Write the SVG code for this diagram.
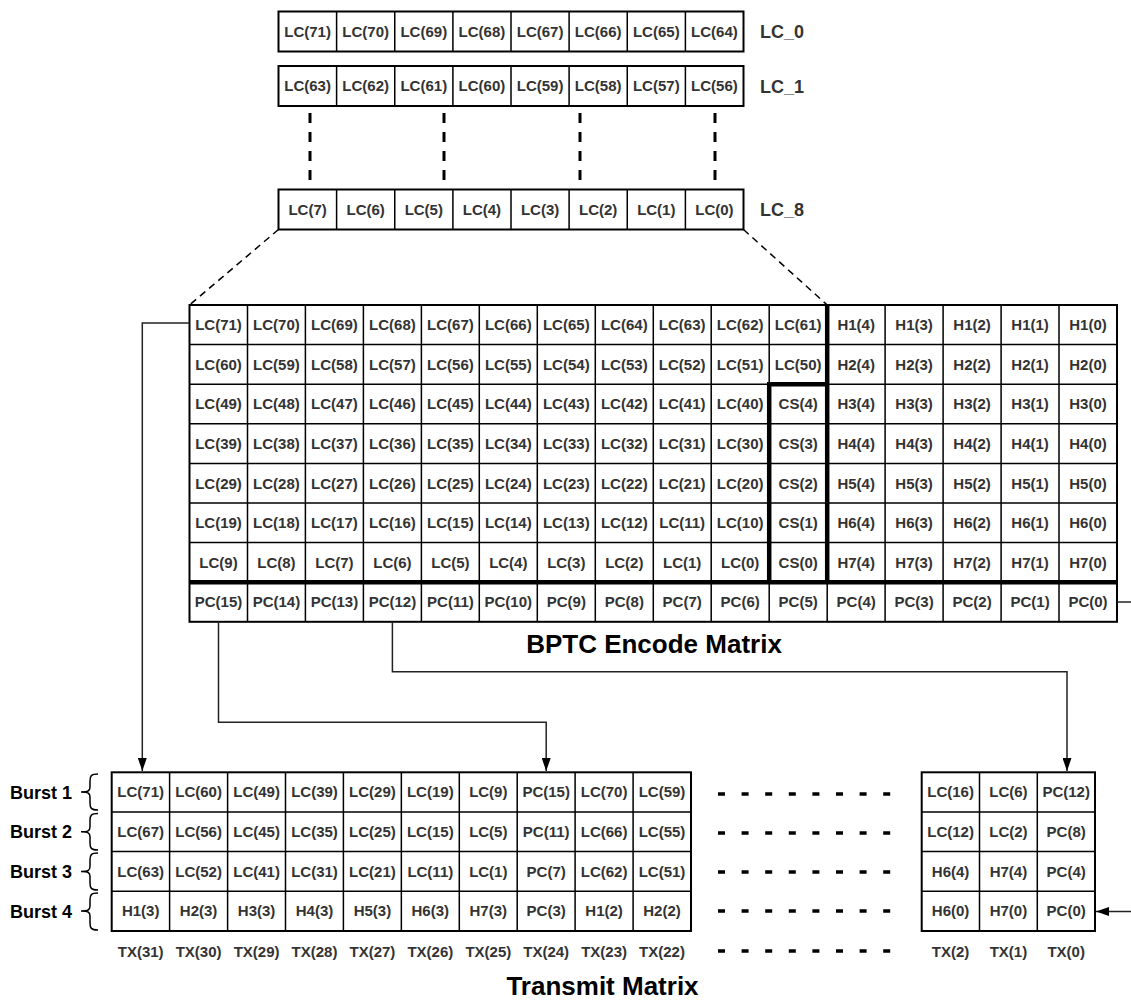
<svg xmlns="http://www.w3.org/2000/svg" width="1131" height="1001" viewBox="0 0 1131 1001">
<style>
.c{font-family:"Liberation Sans",Arial,sans-serif;font-weight:bold;font-size:15px;fill:#333;text-anchor:middle}
.lbl{font-family:"Liberation Sans",Arial,sans-serif;font-weight:bold;font-size:18px;fill:#333}
.bl{font-family:"Liberation Sans",Arial,sans-serif;font-weight:bold;font-size:18px;fill:#000}
.ttl{font-family:"Liberation Sans",Arial,sans-serif;font-weight:bold;font-size:26px;fill:#000;text-anchor:middle}
.grid{fill:none;stroke:#000;stroke-width:1.5}
.box{fill:#fff;stroke:#000;stroke-width:2}
.thick{fill:none;stroke:#000;stroke-width:4.5}
.conn{fill:none;stroke:#222;stroke-width:1.5}
.vdash{fill:none;stroke:#000;stroke-width:3;stroke-dasharray:10 9}
.ddash{fill:none;stroke:#000;stroke-width:1.5;stroke-dasharray:7 5}
.hdash{fill:none;stroke:#000;stroke-width:3.5;stroke-dasharray:7 16.6}
.brace{fill:none;stroke:#000;stroke-width:1.5}
</style>
<defs>
<marker id="arr" viewBox="0 0 13 9" refX="13" refY="4.5" markerWidth="13" markerHeight="9" markerUnits="userSpaceOnUse" orient="auto"><path d="M0,0 L13,4.5 L0,9 z" fill="#000"/></marker>
</defs>

<g id="lc0">
<rect class="box" x="278.5" y="11.5" width="465" height="40"/>
<path class="grid" d="M336.6 11.5V51.5M394.75 11.5V51.5M452.9 11.5V51.5M511 11.5V51.5M569.1 11.5V51.5M627.25 11.5V51.5M685.4 11.5V51.5"/>
<text class="c" x="307.6" y="36.8">LC(71)</text><text class="c" x="365.7" y="36.8">LC(70)</text><text class="c" x="423.8" y="36.8">LC(69)</text><text class="c" x="481.9" y="36.8">LC(68)</text><text class="c" x="540.1" y="36.8">LC(67)</text><text class="c" x="598.2" y="36.8">LC(66)</text><text class="c" x="656.3" y="36.8">LC(65)</text><text class="c" x="714.4" y="36.8">LC(64)</text>
<text class="lbl" x="760" y="38">LC_0</text>
</g>

<g id="lc1">
<rect class="box" x="278.5" y="66" width="465" height="40"/>
<path class="grid" d="M336.6 66V106M394.75 66V106M452.9 66V106M511 66V106M569.1 66V106M627.25 66V106M685.4 66V106"/>
<text class="c" x="307.6" y="91.3">LC(63)</text><text class="c" x="365.7" y="91.3">LC(62)</text><text class="c" x="423.8" y="91.3">LC(61)</text><text class="c" x="481.9" y="91.3">LC(60)</text><text class="c" x="540.1" y="91.3">LC(59)</text><text class="c" x="598.2" y="91.3">LC(58)</text><text class="c" x="656.3" y="91.3">LC(57)</text><text class="c" x="714.4" y="91.3">LC(56)</text>
<text class="lbl" x="760" y="92.5">LC_1</text>
</g>

<g id="lc8">
<rect class="box" x="278.5" y="189.5" width="465" height="40"/>
<path class="grid" d="M336.6 189.5V229.5M394.75 189.5V229.5M452.9 189.5V229.5M511 189.5V229.5M569.1 189.5V229.5M627.25 189.5V229.5M685.4 189.5V229.5"/>
<text class="c" x="307.6" y="214.8">LC(7)</text><text class="c" x="365.7" y="214.8">LC(6)</text><text class="c" x="423.8" y="214.8">LC(5)</text><text class="c" x="481.9" y="214.8">LC(4)</text><text class="c" x="540.1" y="214.8">LC(3)</text><text class="c" x="598.2" y="214.8">LC(2)</text><text class="c" x="656.3" y="214.8">LC(1)</text><text class="c" x="714.4" y="214.8">LC(0)</text>
<text class="lbl" x="760" y="216">LC_8</text>
</g>

<g id="bptc">
<rect class="grid" x="189.5" y="305" width="927.5" height="316.8" fill="#fff" style="stroke-width:2"/>
<path class="grid" d="M247.5 305V621.8M305.4 305V621.8M363.4 305V621.8M421.4 305V621.8M479.3 305V621.8M537.3 305V621.8M595.3 305V621.8M653.3 305V621.8M711.2 305V621.8M769.2 305V621.8M827.2 305V621.8M885.1 305V621.8M943.1 305V621.8M1001.1 305V621.8M1059 305V621.8M189.5 344.6H1117M189.5 384.2H1117M189.5 423.8H1117M189.5 463.4H1117M189.5 503H1117M189.5 542.6H1117"/>
<path class="thick" d="M827.2 305V582.2M769.2 384.2V582.2M767 384.2H829.4M189.5 582.2H1117"/>
<text class="c" x="218.5" y="330">LC(71)</text><text class="c" x="276.4" y="330">LC(70)</text><text class="c" x="334.4" y="330">LC(69)</text><text class="c" x="392.4" y="330">LC(68)</text><text class="c" x="450.4" y="330">LC(67)</text><text class="c" x="508.3" y="330">LC(66)</text><text class="c" x="566.3" y="330">LC(65)</text><text class="c" x="624.3" y="330">LC(64)</text><text class="c" x="682.2" y="330">LC(63)</text><text class="c" x="740.2" y="330">LC(62)</text><text class="c" x="798.2" y="330">LC(61)</text><text class="c" x="856.2" y="330">H1(4)</text><text class="c" x="914.1" y="330">H1(3)</text><text class="c" x="972.1" y="330">H1(2)</text><text class="c" x="1030.1" y="330">H1(1)</text><text class="c" x="1088" y="330">H1(0)</text>
<text class="c" x="218.5" y="369.7">LC(60)</text><text class="c" x="276.4" y="369.7">LC(59)</text><text class="c" x="334.4" y="369.7">LC(58)</text><text class="c" x="392.4" y="369.7">LC(57)</text><text class="c" x="450.4" y="369.7">LC(56)</text><text class="c" x="508.3" y="369.7">LC(55)</text><text class="c" x="566.3" y="369.7">LC(54)</text><text class="c" x="624.3" y="369.7">LC(53)</text><text class="c" x="682.2" y="369.7">LC(52)</text><text class="c" x="740.2" y="369.7">LC(51)</text><text class="c" x="798.2" y="369.7">LC(50)</text><text class="c" x="856.2" y="369.7">H2(4)</text><text class="c" x="914.1" y="369.7">H2(3)</text><text class="c" x="972.1" y="369.7">H2(2)</text><text class="c" x="1030.1" y="369.7">H2(1)</text><text class="c" x="1088" y="369.7">H2(0)</text>
<text class="c" x="218.5" y="409.3">LC(49)</text><text class="c" x="276.4" y="409.3">LC(48)</text><text class="c" x="334.4" y="409.3">LC(47)</text><text class="c" x="392.4" y="409.3">LC(46)</text><text class="c" x="450.4" y="409.3">LC(45)</text><text class="c" x="508.3" y="409.3">LC(44)</text><text class="c" x="566.3" y="409.3">LC(43)</text><text class="c" x="624.3" y="409.3">LC(42)</text><text class="c" x="682.2" y="409.3">LC(41)</text><text class="c" x="740.2" y="409.3">LC(40)</text><text class="c" x="798.2" y="409.3">CS(4)</text><text class="c" x="856.2" y="409.3">H3(4)</text><text class="c" x="914.1" y="409.3">H3(3)</text><text class="c" x="972.1" y="409.3">H3(2)</text><text class="c" x="1030.1" y="409.3">H3(1)</text><text class="c" x="1088" y="409.3">H3(0)</text>
<text class="c" x="218.5" y="448.9">LC(39)</text><text class="c" x="276.4" y="448.9">LC(38)</text><text class="c" x="334.4" y="448.9">LC(37)</text><text class="c" x="392.4" y="448.9">LC(36)</text><text class="c" x="450.4" y="448.9">LC(35)</text><text class="c" x="508.3" y="448.9">LC(34)</text><text class="c" x="566.3" y="448.9">LC(33)</text><text class="c" x="624.3" y="448.9">LC(32)</text><text class="c" x="682.2" y="448.9">LC(31)</text><text class="c" x="740.2" y="448.9">LC(30)</text><text class="c" x="798.2" y="448.9">CS(3)</text><text class="c" x="856.2" y="448.9">H4(4)</text><text class="c" x="914.1" y="448.9">H4(3)</text><text class="c" x="972.1" y="448.9">H4(2)</text><text class="c" x="1030.1" y="448.9">H4(1)</text><text class="c" x="1088" y="448.9">H4(0)</text>
<text class="c" x="218.5" y="488.5">LC(29)</text><text class="c" x="276.4" y="488.5">LC(28)</text><text class="c" x="334.4" y="488.5">LC(27)</text><text class="c" x="392.4" y="488.5">LC(26)</text><text class="c" x="450.4" y="488.5">LC(25)</text><text class="c" x="508.3" y="488.5">LC(24)</text><text class="c" x="566.3" y="488.5">LC(23)</text><text class="c" x="624.3" y="488.5">LC(22)</text><text class="c" x="682.2" y="488.5">LC(21)</text><text class="c" x="740.2" y="488.5">LC(20)</text><text class="c" x="798.2" y="488.5">CS(2)</text><text class="c" x="856.2" y="488.5">H5(4)</text><text class="c" x="914.1" y="488.5">H5(3)</text><text class="c" x="972.1" y="488.5">H5(2)</text><text class="c" x="1030.1" y="488.5">H5(1)</text><text class="c" x="1088" y="488.5">H5(0)</text>
<text class="c" x="218.5" y="528.1">LC(19)</text><text class="c" x="276.4" y="528.1">LC(18)</text><text class="c" x="334.4" y="528.1">LC(17)</text><text class="c" x="392.4" y="528.1">LC(16)</text><text class="c" x="450.4" y="528.1">LC(15)</text><text class="c" x="508.3" y="528.1">LC(14)</text><text class="c" x="566.3" y="528.1">LC(13)</text><text class="c" x="624.3" y="528.1">LC(12)</text><text class="c" x="682.2" y="528.1">LC(11)</text><text class="c" x="740.2" y="528.1">LC(10)</text><text class="c" x="798.2" y="528.1">CS(1)</text><text class="c" x="856.2" y="528.1">H6(4)</text><text class="c" x="914.1" y="528.1">H6(3)</text><text class="c" x="972.1" y="528.1">H6(2)</text><text class="c" x="1030.1" y="528.1">H6(1)</text><text class="c" x="1088" y="528.1">H6(0)</text>
<text class="c" x="218.5" y="567.7">LC(9)</text><text class="c" x="276.4" y="567.7">LC(8)</text><text class="c" x="334.4" y="567.7">LC(7)</text><text class="c" x="392.4" y="567.7">LC(6)</text><text class="c" x="450.4" y="567.7">LC(5)</text><text class="c" x="508.3" y="567.7">LC(4)</text><text class="c" x="566.3" y="567.7">LC(3)</text><text class="c" x="624.3" y="567.7">LC(2)</text><text class="c" x="682.2" y="567.7">LC(1)</text><text class="c" x="740.2" y="567.7">LC(0)</text><text class="c" x="798.2" y="567.7">CS(0)</text><text class="c" x="856.2" y="567.7">H7(4)</text><text class="c" x="914.1" y="567.7">H7(3)</text><text class="c" x="972.1" y="567.7">H7(2)</text><text class="c" x="1030.1" y="567.7">H7(1)</text><text class="c" x="1088" y="567.7">H7(0)</text>
<text class="c" x="218.5" y="607.3">PC(15)</text><text class="c" x="276.4" y="607.3">PC(14)</text><text class="c" x="334.4" y="607.3">PC(13)</text><text class="c" x="392.4" y="607.3">PC(12)</text><text class="c" x="450.4" y="607.3">PC(11)</text><text class="c" x="508.3" y="607.3">PC(10)</text><text class="c" x="566.3" y="607.3">PC(9)</text><text class="c" x="624.3" y="607.3">PC(8)</text><text class="c" x="682.2" y="607.3">PC(7)</text><text class="c" x="740.2" y="607.3">PC(6)</text><text class="c" x="798.2" y="607.3">PC(5)</text><text class="c" x="856.2" y="607.3">PC(4)</text><text class="c" x="914.1" y="607.3">PC(3)</text><text class="c" x="972.1" y="607.3">PC(2)</text><text class="c" x="1030.1" y="607.3">PC(1)</text><text class="c" x="1088" y="607.3">PC(0)</text>
<text class="ttl" x="654" y="653">BPTC Encode Matrix</text>
</g>

<g id="transmit-left">
<rect class="grid" x="111.7" y="772.3" width="579.3" height="158.7" fill="#fff" style="stroke-width:2"/>
<path class="grid" d="M169.6 772.3V931M227.6 772.3V931M285.5 772.3V931M343.4 772.3V931M401.35 772.3V931M459.3 772.3V931M517.2 772.3V931M575.1 772.3V931M633.1 772.3V931M111.7 812H691M111.7 851.6H691M111.7 891.3H691"/>
<text class="c" x="140.7" y="797.4">LC(71)</text><text class="c" x="198.6" y="797.4">LC(60)</text><text class="c" x="256.6" y="797.4">LC(49)</text><text class="c" x="314.5" y="797.4">LC(39)</text><text class="c" x="372.4" y="797.4">LC(29)</text><text class="c" x="430.3" y="797.4">LC(19)</text><text class="c" x="488.3" y="797.4">LC(9)</text><text class="c" x="546.2" y="797.4">PC(15)</text><text class="c" x="604.1" y="797.4">LC(70)</text><text class="c" x="662" y="797.4">LC(59)</text>
<text class="c" x="140.7" y="837.1">LC(67)</text><text class="c" x="198.6" y="837.1">LC(56)</text><text class="c" x="256.6" y="837.1">LC(45)</text><text class="c" x="314.5" y="837.1">LC(35)</text><text class="c" x="372.4" y="837.1">LC(25)</text><text class="c" x="430.3" y="837.1">LC(15)</text><text class="c" x="488.3" y="837.1">LC(5)</text><text class="c" x="546.2" y="837.1">PC(11)</text><text class="c" x="604.1" y="837.1">LC(66)</text><text class="c" x="662" y="837.1">LC(55)</text>
<text class="c" x="140.7" y="876.8">LC(63)</text><text class="c" x="198.6" y="876.8">LC(52)</text><text class="c" x="256.6" y="876.8">LC(41)</text><text class="c" x="314.5" y="876.8">LC(31)</text><text class="c" x="372.4" y="876.8">LC(21)</text><text class="c" x="430.3" y="876.8">LC(11)</text><text class="c" x="488.3" y="876.8">LC(1)</text><text class="c" x="546.2" y="876.8">PC(7)</text><text class="c" x="604.1" y="876.8">LC(62)</text><text class="c" x="662" y="876.8">LC(51)</text>
<text class="c" x="140.7" y="916.4">H1(3)</text><text class="c" x="198.6" y="916.4">H2(3)</text><text class="c" x="256.6" y="916.4">H3(3)</text><text class="c" x="314.5" y="916.4">H4(3)</text><text class="c" x="372.4" y="916.4">H5(3)</text><text class="c" x="430.3" y="916.4">H6(3)</text><text class="c" x="488.3" y="916.4">H7(3)</text><text class="c" x="546.2" y="916.4">PC(3)</text><text class="c" x="604.1" y="916.4">H1(2)</text><text class="c" x="662" y="916.4">H2(2)</text>
<text class="c" x="140.7" y="956.5">TX(31)</text><text class="c" x="198.6" y="956.5">TX(30)</text><text class="c" x="256.6" y="956.5">TX(29)</text><text class="c" x="314.5" y="956.5">TX(28)</text><text class="c" x="372.4" y="956.5">TX(27)</text><text class="c" x="430.3" y="956.5">TX(26)</text><text class="c" x="488.3" y="956.5">TX(25)</text><text class="c" x="546.2" y="956.5">TX(24)</text><text class="c" x="604.1" y="956.5">TX(23)</text><text class="c" x="662" y="956.5">TX(22)</text>
</g>

<g id="transmit-right">
<rect class="grid" x="921.7" y="772.3" width="173.3" height="158.7" fill="#fff" style="stroke-width:2"/>
<path class="grid" d="M979.5 772.3V931M1037.3 772.3V931M921.7 812H1095M921.7 851.6H1095M921.7 891.3H1095"/>
<text class="c" x="950.6" y="797.4">LC(16)</text><text class="c" x="1008.4" y="797.4">LC(6)</text><text class="c" x="1066.2" y="797.4">PC(12)</text>
<text class="c" x="950.6" y="837.1">LC(12)</text><text class="c" x="1008.4" y="837.1">LC(2)</text><text class="c" x="1066.2" y="837.1">PC(8)</text>
<text class="c" x="950.6" y="876.8">H6(4)</text><text class="c" x="1008.4" y="876.8">H7(4)</text><text class="c" x="1066.2" y="876.8">PC(4)</text>
<text class="c" x="950.6" y="916.4">H6(0)</text><text class="c" x="1008.4" y="916.4">H7(0)</text><text class="c" x="1066.2" y="916.4">PC(0)</text>
<text class="c" x="950.6" y="956.5">TX(2)</text><text class="c" x="1008.4" y="956.5">TX(1)</text><text class="c" x="1066.2" y="956.5">TX(0)</text>
</g>

<g id="bursts">
<text class="bl" x="10" y="798.5">Burst 1</text>
<text class="bl" x="10" y="838.2">Burst 2</text>
<text class="bl" x="10" y="877.9">Burst 3</text>
<text class="bl" x="10" y="917.5">Burst 4</text>
<path class="brace" d="M98 774 C91 774 90 776 90 781 L90 787 C90 791 88 792 81 792 C88 792 90 793 90 797 L90 803 C90 808 91 810 98 810"/>
<path class="brace" d="M98 813.5 C91 813.5 90 815.5 90 820.5 L90 826.8 C90 830.8 88 831.8 81 831.8 C88 831.8 90 832.8 90 836.8 L90 843 C90 848 91 850 98 850"/>
<path class="brace" d="M98 853 C91 853 90 855 90 860 L90 866.5 C90 870.5 88 871.5 81 871.5 C88 871.5 90 872.5 90 876.5 L90 883 C90 888 91 890 98 890"/>
<path class="brace" d="M98 893 C91 893 90 895 90 900 L90 906 C90 910 88 911 81 911 C88 911 90 912 90 916 L90 923 C90 928 91 930 98 930"/>
</g>

<g id="continuation">
<path class="hdash" d="M718 794H891M718 833H891M718 872H891M718 911H891M718 951H891"/>
<text class="ttl" x="602.5" y="995">Transmit Matrix</text>
</g>

<g id="connectors">
<path class="vdash" d="M310 113V183M444 113V183M580 113V183M715 113V183"/>
<path class="ddash" d="M278.5 229.5L189.5 305M743.5 229.5L827.2 305"/>
<path class="conn" d="M189.5 323H142.3V771" marker-end="url(#arr)"/>
<path class="conn" d="M218.5 621.8V722.3H546.2V771" marker-end="url(#arr)"/>
<path class="conn" d="M392.4 621.8V671.7H1067V771" marker-end="url(#arr)"/>
<path class="conn" d="M1117 602H1131"/>
<path class="conn" d="M1131 911.5H1096" marker-end="url(#arr)"/>
</g>
</svg>
